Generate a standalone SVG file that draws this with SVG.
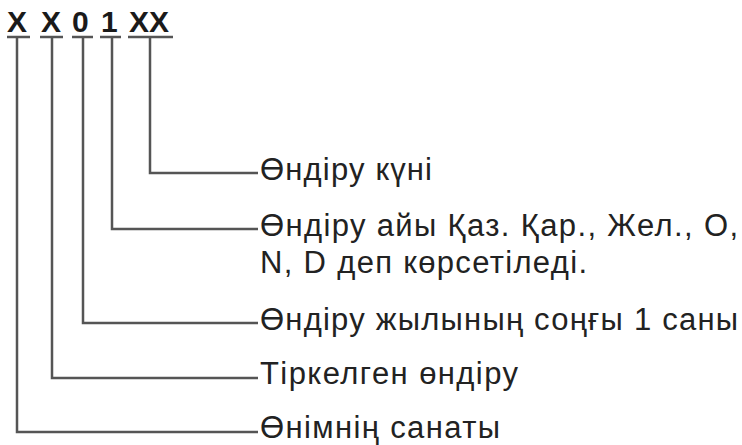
<svg xmlns="http://www.w3.org/2000/svg" width="742" height="445" viewBox="0 0 742 445">
<style>
.code{font-family:"Liberation Sans",Arial,sans-serif;font-weight:bold;font-size:30px;fill:#1a1a1a}
.lbl{font-family:"Liberation Sans",Arial,sans-serif;font-size:31px;fill:#222}
.ln{stroke:#555;stroke-width:2.5;fill:none}
</style>
<rect width="742" height="445" fill="#fff"/>
<g id="code">
<text class="code" x="7" y="32">X</text>
<text class="code" x="41" y="32">X</text>
<text class="code" x="72" y="32">0</text>
<text class="code" x="101" y="32">1</text>
<text class="code" x="129" y="32">XX</text>
</g>
<g id="connectors">
<path class="ln" d="M7 37H30M17 37V432H258"/>
<path class="ln" d="M40 37H63M52 37V378H258"/>
<path class="ln" d="M72 37H93M83 37V323H258"/>
<path class="ln" d="M100 37H121M112 37V229H258"/>
<path class="ln" d="M128 37H173M150 37V173H258"/>
</g>
<g id="n-day"><text class="lbl" x="260" y="180" textLength="172" lengthAdjust="spacing">Өндіру күні</text></g>
<g id="n-month"><text class="lbl" x="260" y="236" textLength="478" lengthAdjust="spacing">Өндіру айы Қаз. Қар., Жел., О,</text><text class="lbl" x="260" y="273" textLength="327" lengthAdjust="spacing">N, D деп көрсетіледі.</text></g>
<g id="n-year"><text class="lbl" x="260" y="330" textLength="478" lengthAdjust="spacing">Өндіру жылының соңғы 1 саны</text></g>
<g id="n-reg"><text class="lbl" x="260" y="384" textLength="258" lengthAdjust="spacing">Тіркелген өндіру</text></g>
<g id="n-cat"><text class="lbl" x="260" y="438" textLength="240" lengthAdjust="spacing">Өнімнің санаты</text></g>
</svg>
